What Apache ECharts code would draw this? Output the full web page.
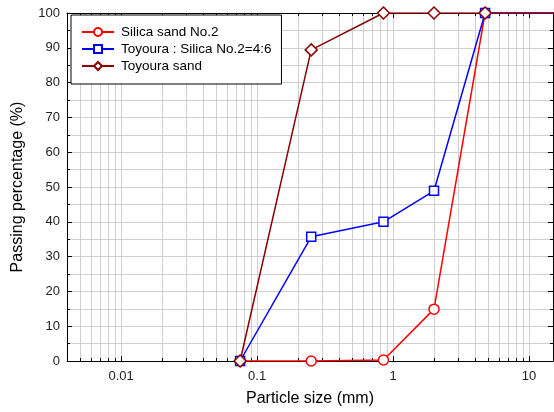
<!DOCTYPE html>
<html>
<head>
<meta charset="utf-8">
<script src="https://cdn.jsdelivr.net/npm/echarts@6/dist/echarts.min.js"></script>
<style>
  html, body { margin: 0; padding: 0; background: #fff; }
  #chart { width: 554px; height: 412px; }
</style>
</head>
<body>
<div id="chart"></div>
<script>
// particle sizes (mm) of the sieves
const sizes = [0.075, 0.25, 0.85, 2, 4.75, 19]
// passing percentage (%)
const silicaNo2 = [0, 0, 0.3, 14.9, 100, 100]
const mix46 = [0, 35.7, 40.0, 48.9, 100, 100]
const toyoura = [0, 89.4, 100, 100, 100, 100]

const seriesNames = ['Silica sand No.2', 'Toyoura : Silica No.2=4:6', 'Toyoura sand']
const seriesColors = ['#ff0000', '#0000ff', '#8b0000']
const seriesSymbols = ['circle', 'rect', 'diamond']

const xMin = 0.004
const xMax = 15

// minor log grid positions (2..9 in each decade)
const minorX = []
for (const d of [0.001, 0.01, 0.1, 1, 10]) {
  for (let m = 2; m <= 9; m++) {
    const v = +(m * d).toPrecision(3)
    if (v > xMin && v < xMax) minorX.push([v, 0])
  }
}

const font = 'Arial, "Liberation Sans", sans-serif'
const gridColor = '#cfcfcf'

const chart = echarts.init(document.getElementById('chart'))

function pairs(ys) {
  return sizes.map((x, i) => [x, ys[i]])
}

const lineSeries = [silicaNo2, mix46, toyoura].map((ys, i) => ({
  name: seriesNames[i],
  type: 'line',
  data: pairs(ys),
  symbol: seriesSymbols[i],
  symbolSize: seriesSymbols[i] === 'rect' ? 9 : (seriesSymbols[i] === 'diamond' ? 12 : 10),
  showSymbol: true,
  clip: true,
  z: 3 + i,
  lineStyle: { color: seriesColors[i], width: 1.5 },
  itemStyle: { color: '#fff', borderColor: seriesColors[i], borderWidth: 1.5 },
  emphasis: { disabled: true },
  animation: false
}))

const option = {
  animation: false,
  backgroundColor: '#fff',
  grid: { left: 67, right: 1, top: 13, bottom: 50, containLabel: false },
  legend: {
    data: seriesNames,
    orient: 'vertical',
    left: 71,
    top: 15,
    padding: [10, 10, 11, 10],
    itemGap: 3,
    itemWidth: 32,
    itemHeight: 10,
    backgroundColor: '#fff',
    borderColor: '#000',
    borderWidth: 1,
    textStyle: { fontFamily: font, fontSize: 13.5, lineHeight: 14, color: '#000', padding: [0, 0, 0, 2] }
  },
  xAxis: [{
    type: 'log',
    logBase: 10,
    min: xMin,
    max: xMax,
    position: 'bottom',
    name: 'Particle size (mm)',
    nameLocation: 'middle',
    nameGap: 30,
    nameTextStyle: { fontFamily: font, fontSize: 16, color: '#000' },
    axisLine: { show: true, onZero: false, lineStyle: { color: '#000', width: 1 } },
    axisTick: { show: true, inside: true, length: 5, lineStyle: { color: '#000' } },
    axisLabel: {
      fontFamily: font, fontSize: 13, color: '#222', margin: 9,
      showMinLabel: false, showMaxLabel: false
    },
    splitLine: { show: true, lineStyle: { color: gridColor, width: 1 } }
  }, {
    type: 'log',
    logBase: 10,
    min: xMin,
    max: xMax,
    position: 'top',
    axisLine: { show: true, onZero: false, lineStyle: { color: '#000', width: 1 } },
    axisTick: { show: true, inside: true, length: 5, lineStyle: { color: '#000' } },
    axisLabel: { show: false },
    splitLine: { show: false }
  }],
  yAxis: [{
    type: 'value',
    min: 0,
    max: 100,
    interval: 10,
    position: 'left',
    name: 'Passing percentage (%)',
    nameLocation: 'middle',
    nameGap: 41,
    nameTextStyle: { fontFamily: font, fontSize: 16, color: '#000' },
    axisLine: { show: true, lineStyle: { color: '#000', width: 1 } },
    axisTick: { show: true, inside: true, length: 5, lineStyle: { color: '#000' } },
    minorTick: { show: true, splitNumber: 2, length: 3, lineStyle: { color: '#000' } },
    axisLabel: { fontFamily: font, fontSize: 13, color: '#222', margin: 7 },
    splitLine: { show: true, lineStyle: { color: gridColor, width: 1 } },
    minorSplitLine: { show: true, lineStyle: { color: gridColor, width: 1 } }
  }, {
    type: 'value',
    min: 0,
    max: 100,
    interval: 10,
    position: 'right',
    axisLine: { show: true, lineStyle: { color: '#000', width: 1 } },
    axisTick: { show: true, inside: true, length: 5, lineStyle: { color: '#000' } },
    minorTick: { show: true, splitNumber: 2, length: 3, lineStyle: { color: '#000' } },
    axisLabel: { show: false },
    splitLine: { show: false }
  }],
  series: [{
    name: 'minor grid',
    type: 'custom',
    data: minorX,
    encode: { x: 0, y: 1 },
    silent: true,
    z: 1,
    clip: false,
    renderItem: function (params, api) {
      const cs = params.coordSys
      const x = Math.round(api.coord([api.value(0), 0])[0]) + 0.5
      const top = cs.y
      const bottom = cs.y + cs.height
      return {
        type: 'group',
        children: [
          { type: 'line', shape: { x1: x, y1: top, x2: x, y2: bottom }, style: { stroke: gridColor, lineWidth: 1 } },
          { type: 'line', shape: { x1: x, y1: bottom, x2: x, y2: bottom - 3 }, style: { stroke: '#000', lineWidth: 1 } },
          { type: 'line', shape: { x1: x, y1: top, x2: x, y2: top + 3 }, style: { stroke: '#000', lineWidth: 1 } }
        ]
      }
    }
  }].concat(lineSeries)
}

chart.setOption(option)
</script>
</body>
</html>
